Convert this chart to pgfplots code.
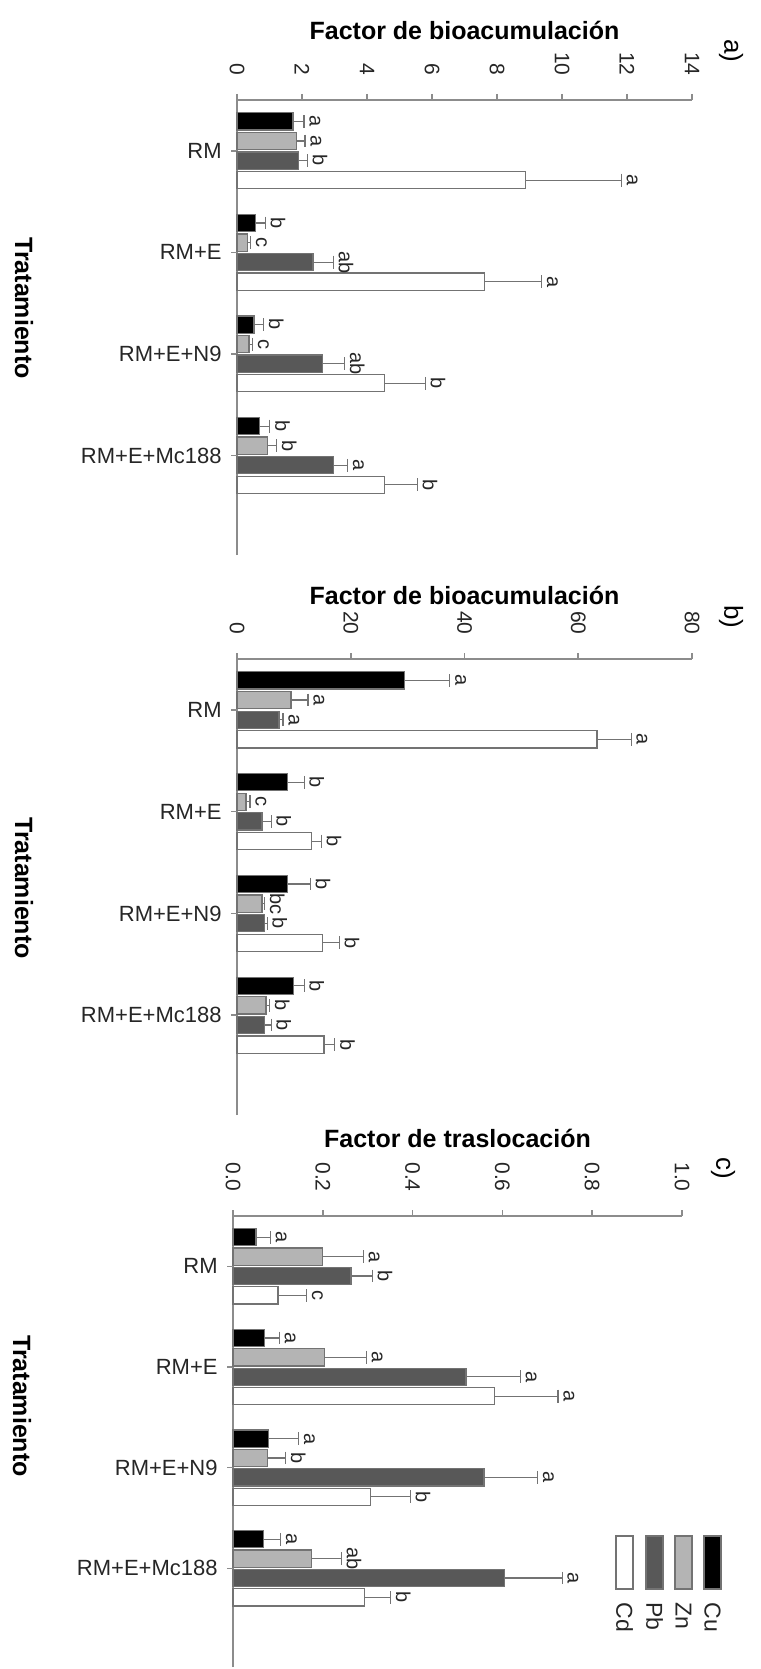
\documentclass[border=0pt]{standalone}
\usepackage{pgfplots}
\pgfplotsset{compat=1.18}
\usepackage{pgfplotstable}
\usepackage{fontspec}
\setmainfont{Liberation Sans}
\definecolor{cuC}{RGB}{0,0,0}
\definecolor{znC}{RGB}{180,180,180}
\definecolor{pbC}{RGB}{88,88,88}
\definecolor{cdC}{RGB}{255,255,255}
\definecolor{edgeC}{RGB}{115,115,115}
\definecolor{axC}{RGB}{140,140,140}
\newcommand\px{0.5pt}

% Panel a: bioaccumulation factor
\pgfplotstableread{
y  cu   cuE  cuT  cuL zn   znE  znT  znL pb   pbE  pbT  pbL cd   cdE  cdT   cdL
0  1.72 0.34 2.06 a   1.82 0.27 2.09 a   1.90 0.26 2.16 b   8.88 2.94 11.82 a
-1 0.57 0.30 0.87 b   0.33 0.09 0.42 c   2.34 0.62 2.96 ab  7.61 1.76 9.37  a
-2 0.52 0.30 0.82 b   0.37 0.11 0.48 c   2.64 0.67 3.31 ab  4.55 1.24 5.79  b
-3 0.70 0.31 1.01 b   0.93 0.29 1.22 b   2.96 0.44 3.40 a   4.55 1.00 5.55  b
}\dataA
% Panel b: bioaccumulation factor
\pgfplotstableread{
y  cu   cuE  cuT  cuL zn  znE  znT  znL pb   pbE  pbT pbL cd   cdE cdT  cdL
0  29.5 7.9  37.4 a   9.5 3.0  12.5 a   7.4  0.7  8.1 a   63.3 6.0 69.3 a
-1 8.85 2.95 11.8 b   1.6 0.7  2.3  c   4.4  1.6  6.0 b   13.1 1.7 14.8 b
-2 8.85 4.05 12.9 b   4.4 0.45 4.85 bc  4.85 0.45 5.3 b   15.1 2.9 18.0 b
-3 10.0 1.8  11.8 b   5.1 0.6  5.7  b   4.85 1.15 6.0 b   15.3 1.9 17.2 b
}\dataB
% Panel c: translocation factor
\pgfplotstableread{
y  cu    cuE   cuT   cuL zn    znE   znT   znL pb    pbE   pbT   pbL cd    cdE   cdT   cdL
0  0.051 0.032 0.083 a   0.200 0.090 0.290 a   0.263 0.047 0.310 b   0.100 0.064 0.164 c
-1 0.070 0.033 0.103 a   0.203 0.094 0.297 a   0.519 0.121 0.640 a   0.582 0.142 0.724 a
-2 0.079 0.067 0.146 a   0.076 0.041 0.117 b   0.559 0.119 0.678 a   0.306 0.089 0.395 b
-3 0.068 0.038 0.106 a   0.175 0.066 0.241 ab  0.605 0.128 0.733 a   0.292 0.059 0.351 b
}\dataC

\pgfplotsset{
  panel/.style={
    scale only axis, anchor=north west,
    axis x line*=top, axis y line*=left,
    axis line style={draw=axC, line width=0.8pt},
    tick style={draw=axC, line width=0.8pt},
    tick align=outside, major tick length=3pt,
    xmin=0,
    ymin=-3.98, ymax=0.5,
    ytick={0,-1,-2,-3},
    yticklabels={RM,RM+E,RM+E+N9,RM+E+Mc188},
    yticklabel style={font=\fontsize{11}{13}\selectfont, inner sep=4.5pt, text=black!85},
    xticklabel style={rotate=-90, anchor=east, font=\fontsize{10.5}{12}\selectfont, text=black!85, inner sep=9pt},
    /pgf/number format/assume math mode=true,
    xlabel style={font=\bfseries\fontsize{12.5}{15}\selectfont, at={(axis description cs:0.5,1)}, anchor=center},
    clip=false,
  },
  metal/.style={xbar, bar width=8.6pt, bar shift=0pt, fill=#1, draw=edgeC, line width=0.6pt,
    error bars/.cd, x dir=plus, x explicit, error mark=|,
    error bar style={draw=edgeC, line width=0.6pt},
    error mark options={draw=edgeC, line width=0.6pt, mark size=3.2pt}},
  lett/.style={xbar, bar width=8.6pt, bar shift=0pt, draw=none, fill=none, forget plot,
    nodes near coords, point meta=explicit symbolic,
    every node near coord/.append style={rotate=-90, anchor=south, font=\fontsize{10}{12}\selectfont, inner sep=2.5pt, text=black!85}},
}
% one panel's four series: bars with error bars, then their letters
\newcommand\panelplots[1]{%
\addplot[metal=cuC] table[x=cu, y expr=\thisrow{y}+0.289, x error=cuE]{#1};
\addplot[lett] table[x=cuT, y expr=\thisrow{y}+0.289, meta=cuL]{#1};
\addplot[metal=znC] table[x=zn, y expr=\thisrow{y}+0.0963, x error=znE]{#1};
\addplot[lett] table[x=znT, y expr=\thisrow{y}+0.0963, meta=znL]{#1};
\addplot[metal=pbC] table[x=pb, y expr=\thisrow{y}-0.0963, x error=pbE]{#1};
\addplot[lett] table[x=pbT, y expr=\thisrow{y}-0.0963, meta=pbL]{#1};
\addplot[metal=cdC] table[x=cd, y expr=\thisrow{y}-0.289, x error=cdE]{#1};
\addplot[lett] table[x=cdT, y expr=\thisrow{y}-0.289, meta=cdL]{#1};
}

\begin{document}
\begin{tikzpicture}
\useasboundingbox (0,0) rectangle (760*\px,-1669*\px);

% ---------- a ----------
\begin{axis}[panel, at={(237*\px,-100*\px)}, width=455*\px, height=455*\px,
  xmax=14, xtick={0,2,...,14},
  xlabel={Factor de bioacumulación}, xlabel style={yshift=35pt}]
\panelplots{\dataA}
\end{axis}

% ---------- b ----------
\begin{axis}[panel, at={(237*\px,-659*\px)}, width=455*\px, height=456*\px,
  xmax=80, xtick={0,20,...,80},
  xlabel={Factor de bioacumulación}, xlabel style={yshift=32pt}]
\panelplots{\dataB}
\end{axis}

% ---------- c ----------
\begin{axis}[panel, at={(233*\px,-1216*\px)}, width=449*\px, height=451*\px,
  xmax=1, xtick={0,0.2,...,1.0},
  xticklabel={\pgfmathprintnumber[fixed, fixed zerofill, precision=1]{\tick}},
  xlabel={Factor de traslocación}, xlabel style={yshift=39pt}]
\panelplots{\dataC}
\end{axis}

% legend (rotated, as in the reference)
\foreach \x/\c/\n in {704/cuC/Cu, 675/znC/Zn, 646/pbC/Pb, 616/cdC/Cd} {
  \draw[fill=\c, draw=edgeC, line width=0.6pt] (\x*\px,-1536*\px) rectangle ({(\x+17)*\px},-1589*\px);
  \node[rotate=-90, anchor=west, inner sep=0pt, font=\fontsize{11.5}{13}\selectfont, text=black!85] at ({(\x+8.5)*\px},-1602*\px) {\n};
}

% axis titles and panel letters
\node[rotate=-90, font=\bfseries\fontsize{12.5}{15}\selectfont] at (24*\px,-308*\px) {Tratamiento};
\node[rotate=-90, font=\bfseries\fontsize{12.5}{15}\selectfont] at (24*\px,-888*\px) {Tratamiento};
\node[rotate=-90, font=\bfseries\fontsize{12.5}{15}\selectfont] at (22*\px,-1406*\px) {Tratamiento};
\node[rotate=-90, font=\fontsize{13}{15}\selectfont] at (731*\px,-51*\px) {a)};
\node[rotate=-90, font=\fontsize{13}{15}\selectfont] at (731*\px,-617*\px) {b)};
\node[rotate=-90, font=\fontsize{13}{15}\selectfont] at (723*\px,-1168*\px) {c)};
\end{tikzpicture}
\end{document}
